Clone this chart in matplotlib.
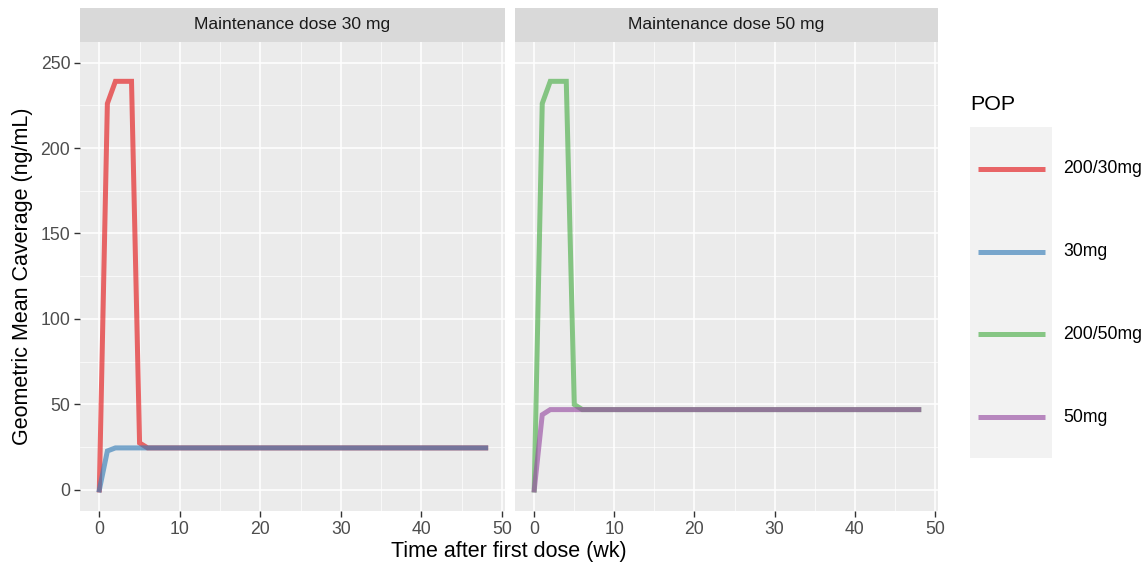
import numpy as np
import matplotlib
matplotlib.use("Agg")
import matplotlib.pyplot as plt
from matplotlib.ticker import MultipleLocator

plt.rcParams["font.family"] = ["Liberation Sans", "DejaVu Sans"]

# weeks after first dose
weeks = np.arange(0, 49)

# geometric mean Caverage (ng/mL)
load30 = [0, 226, 239, 239, 239, 27.5] + [24.6] * 43
maint30 = [0, 22.8, 24.6] + [24.6] * 46
load50 = [0, 226, 239, 239, 239, 50] + [47] * 43
maint50 = [0, 44, 47] + [47] * 46

panels = ["Maintenance dose 30 mg", "Maintenance dose 50 mg"]
series = [
    [("200/30mg", load30, "#E41A1C"), ("30mg", maint30, "#377EB8")],
    [("200/50mg", load50, "#4DAF4A"), ("50mg", maint50, "#984EA3")],
]
legend_labels = ["200/30mg", "30mg", "200/50mg", "50mg"]
legend_colors = ["#E41A1C", "#377EB8", "#4DAF4A", "#984EA3"]

W, H = 1148, 571
fig = plt.figure(figsize=(W / 100, H / 100), dpi=100)
fig.patch.set_facecolor("white")

panel_x = [(80, 505), (515, 938)]
top, bottom = 42, 511
strip_top = 8

for i, (x0, x1) in enumerate(panel_x):
    ax = fig.add_axes([x0 / W, 1 - bottom / H, (x1 - x0) / W, (bottom - top) / H])
    ax.set_facecolor("#EBEBEB")
    for name, vals, col in series[i]:
        ax.plot(weeks, vals, color=col, alpha=0.65, lw=3.6, solid_joinstyle="miter", zorder=3)
    ax.set_xlim(-2.4, 50.4)
    ax.set_ylim(-12.3, 262)
    ax.xaxis.set_major_locator(MultipleLocator(10))
    ax.xaxis.set_minor_locator(MultipleLocator(5))
    ax.yaxis.set_major_locator(MultipleLocator(50))
    ax.yaxis.set_minor_locator(MultipleLocator(25))
    ax.grid(which="major", color="white", lw=1.1, zorder=1)
    ax.grid(which="minor", color="white", lw=0.5, zorder=1)
    ax.set_axisbelow(True)
    for s in ax.spines.values():
        s.set_visible(False)
    ax.tick_params(which="major", length=4, width=1, color="#333333", labelcolor="#4D4D4D",
                   labelsize=12.7, pad=3)
    ax.tick_params(which="minor", length=0)
    if i > 0:
        ax.tick_params(axis="y", labelleft=False, length=0)
    else:
        ax.set_ylabel("Geometric Mean Caverage (ng/mL)", fontsize=15.5, color="black", labelpad=5)

    # facet strip
    sax = fig.add_axes([x0 / W, 1 - top / H, (x1 - x0) / W, (top - strip_top) / H])
    sax.set_facecolor("#D9D9D9")
    sax.set_xticks([])
    sax.set_yticks([])
    for s in sax.spines.values():
        s.set_visible(False)
    sax.text(0.5, 0.5, panels[i], ha="center", va="center", fontsize=12.6, color="#1A1A1A",
             transform=sax.transAxes)

fig.text((80 + 938) / 2 / W, 1 - 552 / H, "Time after first dose (wk)", ha="center", va="center",
         fontsize=15.5)

# legend
fig.text(970 / W, 1 - 105 / H, "POP", ha="left", va="center", fontsize=15.4)
lax = fig.add_axes([970 / W, 1 - 458 / H, 82 / W, (458 - 127) / H])
lax.set_facecolor("#F2F2F2")
lax.set_xlim(0, 82)
lax.set_ylim(458, 127)
lax.set_xticks([])
lax.set_yticks([])
for s in lax.spines.values():
    s.set_visible(False)
for k, (lab, col) in enumerate(zip(legend_labels, legend_colors)):
    y = 169 + k * 82.7
    lax.plot([8, 75], [y, y], color=col, alpha=0.65, lw=3.6, solid_capstyle="butt")
    fig.text(1063 / W, 1 - y / H, lab, ha="left", va="center", fontsize=12.7)

fig.savefig("out.png", dpi=100)
